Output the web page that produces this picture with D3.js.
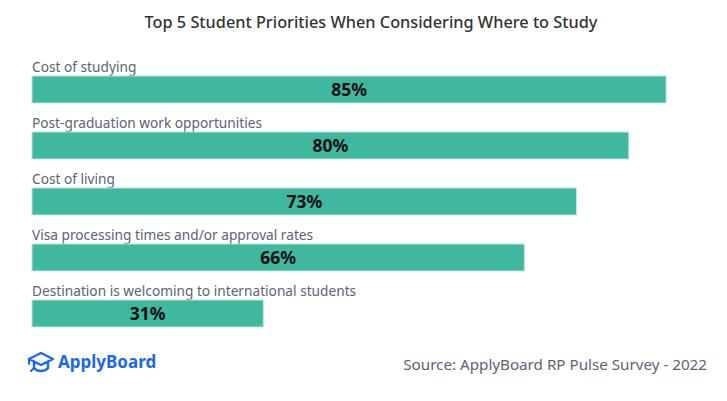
<!DOCTYPE html>
<html>
<head>
<meta charset="utf-8">
<script src="https://cdn.jsdelivr.net/npm/d3@7"></script>
<style>
  body { margin: 0; background: #fff; }
  svg { display: block; }
</style>
</head>
<body>
<div id="wrapper"></div>
<script>
// Dados
const categories = [
  "Cost of studying",
  "Post-graduation work opportunities",
  "Cost of living",
  "Visa processing times and/or approval rates",
  "Destination is welcoming to international students"
];
const values = [85, 80, 73, 66, 31];

const width = 727;
const height = 401;

const svg = d3.select("#wrapper")
  .append("svg")
    .attr("width", width)
    .attr("height", height);

// Titulo
svg.append("text")
  .attr("x", 371)
  .attr("y", 28)
  .attr("text-anchor", "middle")
  .attr("font-family", "Noto Sans")
  .attr("font-size", 16.3)
  .attr("font-weight", 500)
  .attr("fill", "#333")
  .text("Top 5 Student Priorities When Considering Where to Study");

// Escalas
const x = d3.scaleLinear().domain([0, 100]).range([32, 778]);
const y = d3.scaleBand().domain(categories).range([76, 327]).paddingInner(0.518).paddingOuter(0);

const rows = svg.append("g")
  .selectAll("g")
  .data(categories)
  .join("g");

rows.append("text")
  .attr("x", 32)
  .attr("y", d => y(d) - 4)
  .attr("font-family", "Noto Sans")
  .attr("font-size", 13.7)
  .attr("fill", "#5b6377")
  .text(d => d);

rows.append("rect")
  .attr("x", x(0))
  .attr("y", d => y(d))
  .attr("width", (d, i) => x(values[i]) - x(0))
  .attr("height", y.bandwidth())
  .attr("fill", "#40b79f")
  .attr("stroke", "#bfe6da")
  .attr("stroke-width", 1);

rows.append("text")
  .attr("x", (d, i) => (x(0) + x(values[i])) / 2)
  .attr("y", d => y(d) + y.bandwidth() / 2)
  .attr("dy", "0.36em")
  .attr("text-anchor", "middle")
  .attr("font-family", "Noto Sans")
  .attr("font-size", 17.5)
  .attr("font-weight", 700)
  .attr("fill", "#111")
  .text((d, i) => values[i] + "%");

// Logo
const logo = svg.append("g").attr("transform", "translate(28, 352)");
logo.append("path")
  .attr("d", "M1 7 L13 1 L25 7 L13 13 Z M6 10 L6 16 C9 20 17 20 20 16 L20 10")
  .attr("fill", "none")
  .attr("stroke", "#1d6ae5")
  .attr("stroke-width", 2.4)
  .attr("stroke-linejoin", "round")
  .attr("stroke-linecap", "round");
logo.append("path")
  .attr("d", "M1 7 L1 12 M6 16 L3 19")
  .attr("fill", "none")
  .attr("stroke", "#1d6ae5")
  .attr("stroke-width", 2)
  .attr("stroke-linecap", "round");
svg.append("text")
  .attr("x", 58)
  .attr("y", 368)
  .attr("font-family", "Noto Sans")
  .attr("font-size", 17)
  .attr("font-weight", 700)
  .attr("fill", "#1d6ae5")
  .text("ApplyBoard");

// Fonte
svg.append("text")
  .attr("x", 707)
  .attr("y", 370)
  .attr("text-anchor", "end")
  .attr("font-family", "Noto Sans")
  .attr("font-size", 15.2)
  .attr("fill", "#5b6377")
  .text("Source: ApplyBoard RP Pulse Survey - 2022");
</script>
</body>
</html>
